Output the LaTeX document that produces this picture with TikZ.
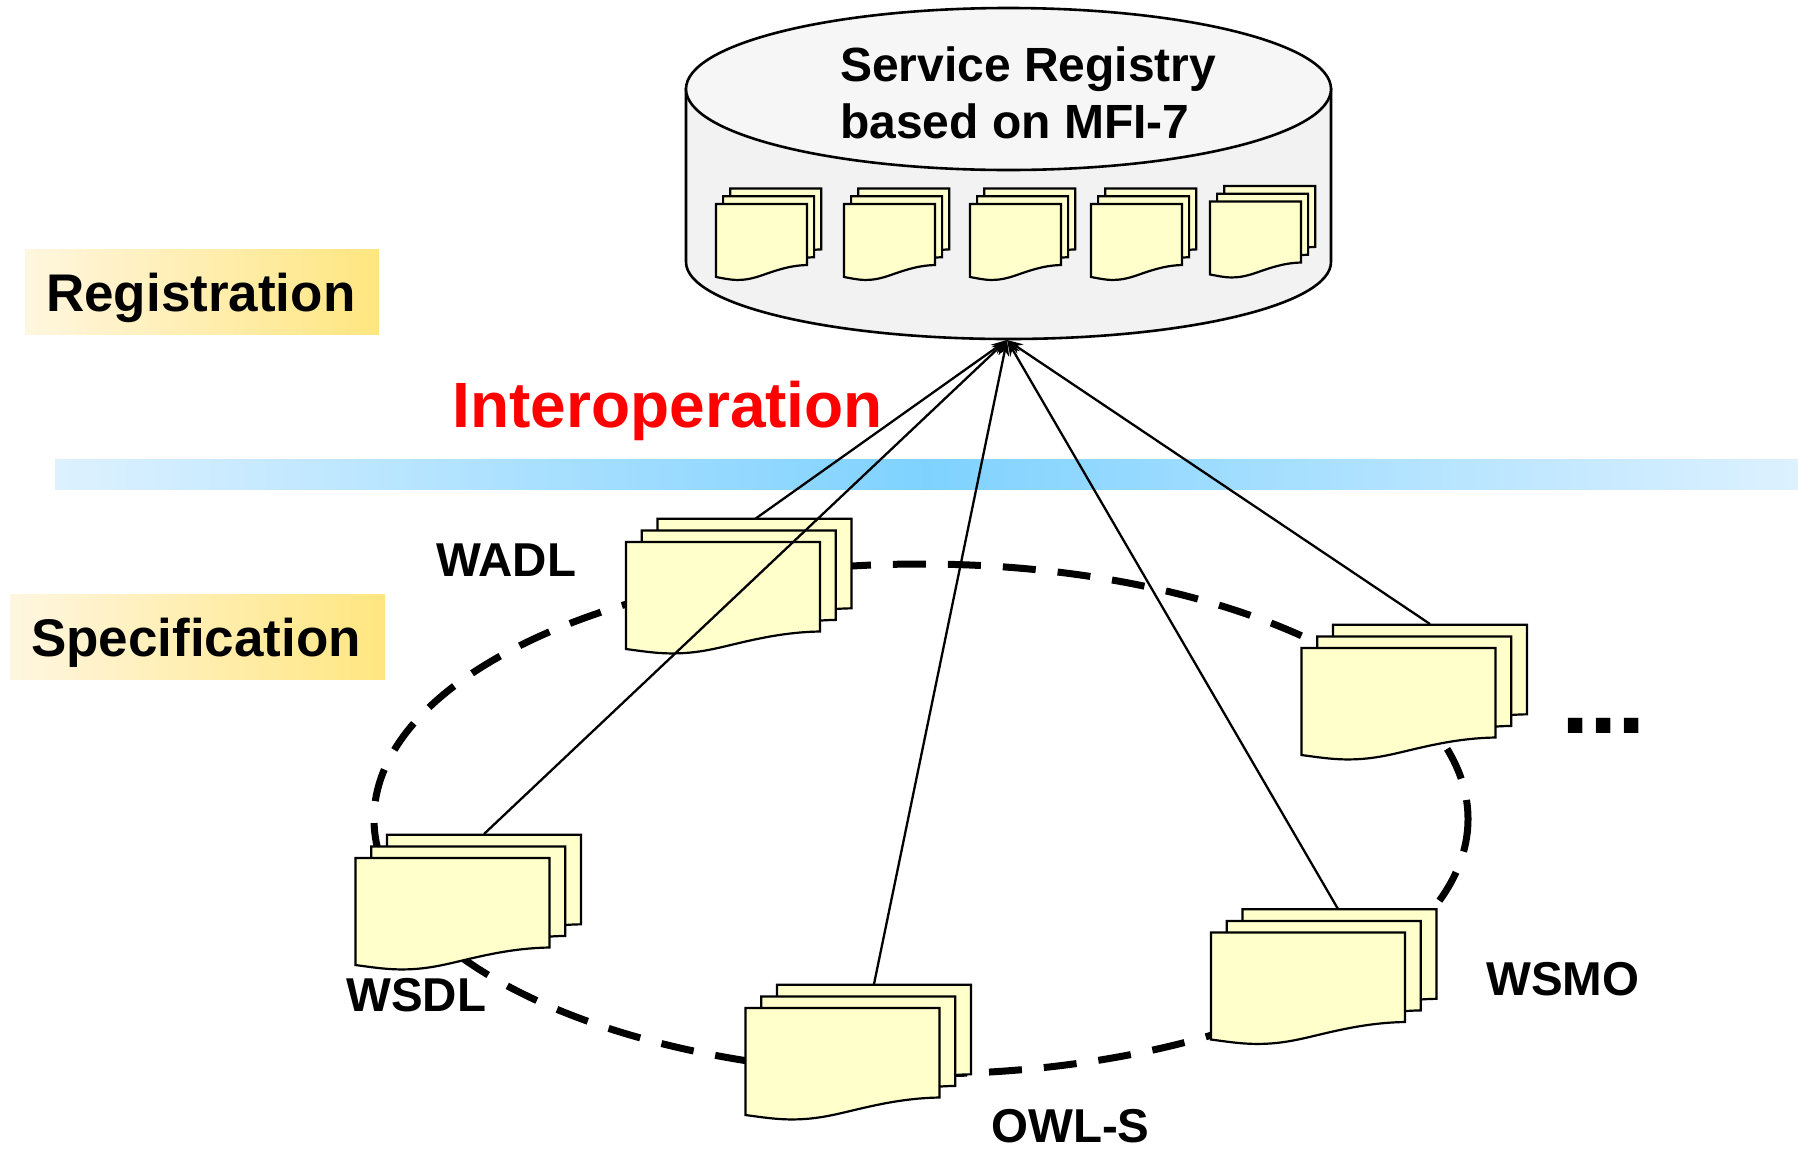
\documentclass[tikz,border=0pt]{standalone}
\usepackage{fontspec}
\setmainfont{Liberation Sans}
\usetikzlibrary{arrows.meta}
\definecolor{docfill}{HTML}{FFFFCC}
\definecolor{cylbody}{HTML}{F2F2F2}
\definecolor{cyltop}{HTML}{F6F6F6}
\definecolor{tagl}{HTML}{FFF6E0}
\definecolor{tagr}{HTML}{FFE680}
\definecolor{bandm}{HTML}{7FD2FF}
\definecolor{bandl}{HTML}{DDF1FF}
\tikzset{
  docline/.style={draw=black,fill=docfill,line width=2.2pt,line join=miter},
  conn/.style={draw=black,line width=2.3pt,-{Stealth[length=16pt,width=11pt]}},
  ring/.style={draw=black,line width=7pt,dash pattern=on 33pt off 22pt},
  cyl/.style={draw=black,line width=2.6pt},
  lab/.style={anchor=base west,inner sep=0pt,font=\fontsize{47.5}{50}\selectfont\bfseries},
  taglabel/.style={anchor=base west,inner sep=0pt,font=\fontsize{53}{56}\selectfont\bfseries},
  regtitle/.style={anchor=base west,inner sep=0pt,font=\fontsize{48}{50}\selectfont\bfseries},
}
% x y w h : one sheet with a wavy bottom edge
\newcommand{\docsheet}[4]{%
  \path[docline,shift={(#1,#2)},xscale=#3,yscale=#4]
    (0,0) -- (1,0) -- (1,1)
    .. controls (.85,1.005) and (.72,1.06) .. (.6,1.12)
    .. controls (.48,1.18) and (.38,1.245) .. (.24,1.245)
    .. controls (.15,1.245) and (.07,1.215) .. (0,1.196) -- cycle;}
% x y of front sheet, w h, offsets of middle sheet
\newcommand{\docstack}[6]{%
  \docsheet{#1+2*#5}{#2+2*#6}{#3}{#4}%
  \docsheet{#1+#5}{#2+#6}{#3}{#4}%
  \docsheet{#1}{#2}{#3}{#4}}
\newcommand{\bigstack}[2]{\docstack{#1}{#2}{194}{89.5}{15.7}{-11.6}}
\newcommand{\smallstack}[2]{\docstack{#1}{#2}{91}{61}{7.1}{-7.8}}
\begin{document}
\begin{tikzpicture}[x=1pt,y=-1pt]
\useasboundingbox (0,0) rectangle (1798,1149);
% tags and band
\path[left color=tagl,right color=tagr] (25,249) rectangle (379,334);
\path[left color=tagl,right color=tagr] (10,594) rectangle (385,679);
\path[left color=bandl,right color=bandl,middle color=bandm] (55,459) rectangle (1798,489.5);
\node[taglabel] (registration) at (46,311) {Registration};
\node[taglabel] (specification) at (31,656) {Specification};
\node[anchor=base west,inner sep=0pt,text=red,font=\fontsize{64}{70}\selectfont\bfseries] (interop) at (452.5,427) {Interoperation};
% dashed ring
\coordinate (ringc) at (921,819);
\path[ring] (ringc) ellipse [x radius=547,y radius=255];
% registry cylinder
\path[cyl,fill=cylbody] (686,89) -- (686,262)
  .. controls (686,304.5) and (830,339) .. (1008.5,339)
  .. controls (1187,339) and (1331,304.5) .. (1331,262) -- (1331,89) -- cycle;
\path[cyl,fill=cyltop] (1008.5,89) ellipse [x radius=322.5,y radius=81];
\node[regtitle] (title1) at (840,81) {Service Registry};
\node[regtitle] (title2) at (840,138) {based on MFI-7};
\smallstack{716}{204}
\smallstack{844}{204}
\smallstack{970}{204}
\smallstack{1091}{204}
\smallstack{1210}{201.5}
% document stacks
\bigstack{626}{542}
\bigstack{1301.5}{648}
\bigstack{355.5}{858}
\bigstack{745.5}{1008}
\bigstack{1211}{932.5}
% connector ends
\coordinate (registry) at (1007,340);
\coordinate (wadl) at (755,519);
\coordinate (wsdl) at (484,834);
\coordinate (owls) at (874,984);
\coordinate (wsmo) at (1338,909);
\coordinate (other) at (1430,624);
\draw[conn] (wadl) -- (registry);
\draw[conn] (wsdl) -- (registry);
\draw[conn] (owls) -- (registry);
\draw[conn] (wsmo) -- (registry);
\draw[conn] (other) -- (registry);
% labels
\node[lab] (lwadl) at (436,576) {WADL};
\node[lab] (lwsdl) at (346,1011) {WSDL};
\node[lab] (lowls) at (991,1142) {OWL-S};
\node[lab] (lwsmo) at (1486,995) {WSMO};
\node[anchor=base west,inner sep=0pt,font=\fontsize{102}{106}\selectfont\bfseries] (dots) at (1561,733) {...};
\end{tikzpicture}
\end{document}
